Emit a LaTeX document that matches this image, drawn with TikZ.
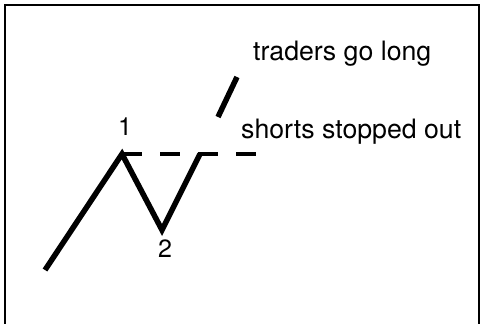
\documentclass[tikz,border=0pt]{standalone}
\usepackage{fontspec}
\setmainfont{TeX Gyre Heros}
\begin{document}
\begin{tikzpicture}[x=1pt,y=-1pt,
  lbl/.style={inner sep=0pt,font=\fontsize{26.7}{30}\selectfont},
  num/.style={inner sep=0pt,font=\fontsize{25}{28}\selectfont,anchor=base},
  price/.style={line width=5.5pt,line join=miter,line cap=butt},
  level/.style={line width=3.5pt,dash pattern=on 20pt off 18pt}]
\useasboundingbox (0,0) rectangle (483,324);
\draw[line width=2pt] (5,324) -- (5,5) -- (479,5) -- (479,324);
\coordinate (start) at (45,270);
\coordinate (p1) at (122,154);
\coordinate (p2) at (162,230);
\coordinate (brk) at (200,154);
\coordinate (lvlend) at (257,154);
\coordinate (upA) at (218,117);
\coordinate (upB) at (237,77);
\draw[level] (p1) -- (lvlend);
\draw[price] (start) -- (p1) -- (p2) -- (brk);
\draw[price] (upA) -- (upB);
\node[num] (n1) at (125,135) {1};
\node[num] (n2) at (165,257) {2};
\node[lbl,anchor=base west] (long) at (253,60) {traders go long};
\node[lbl,anchor=base west] (stop) at (241,138) {shorts stopped out};
\end{tikzpicture}
\end{document}
